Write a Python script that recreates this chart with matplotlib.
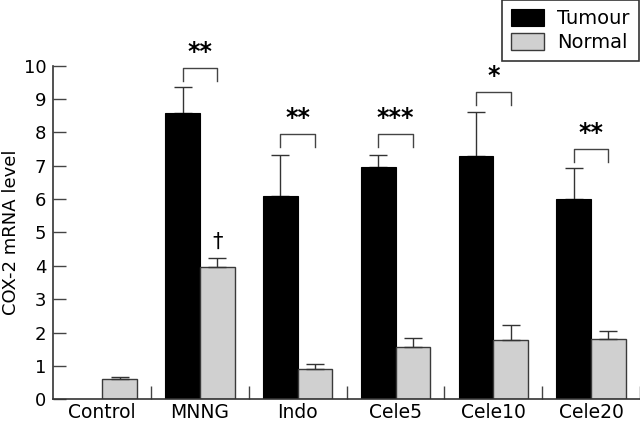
import matplotlib
matplotlib.use("Agg")
import matplotlib.pyplot as plt
import numpy as np

categories = ["Control", "MNNG", "Indo", "Cele5", "Cele10", "Cele20"]
tumour = [0.0, 8.57, 6.10, 6.97, 7.30, 6.01]
tumour_err = [0.0, 0.80, 1.21, 0.35, 1.32, 0.93]
normal = [0.61, 3.96, 0.91, 1.56, 1.78, 1.80]
normal_err = [0.07, 0.28, 0.14, 0.29, 0.46, 0.25]
sig_labels = ["", "**", "**", "***", "*", "**"]
bracket_y = [0, 9.94, 7.94, 7.94, 9.20, 7.49]
yticks = list(range(0, 11))

plt.rcParams['font.family'] = ['DejaVu Sans']

fig = plt.figure(figsize=(6.4, 4.24), dpi=100)
ax = fig.add_axes([53.3 / 640, 1 - 399.3 / 424, 1 - 53.3 / 640, (399.3 - 65.7) / 424])

x = np.arange(len(categories))
w = 0.355
gray = "#d0d0d0"
edge = "#3a3a3a"

tumour_plot = [t if t > 0 else np.nan for t in tumour]
ax.bar(x - w / 2, tumour_plot, w, color="black", edgecolor="black", linewidth=0.8, label="Tumour", zorder=2)
ax.bar(x + w / 2, normal, w, color=gray, edgecolor=edge, linewidth=1.0, label="Normal", zorder=2)

tx = [xi - w / 2 for xi, t in zip(x, tumour) if t > 0]
ty = [t for t in tumour if t > 0]
te = [e for t, e in zip(tumour, tumour_err) if t > 0]
ax.errorbar(tx, ty, yerr=[np.zeros(len(te)), te], fmt="none", ecolor="#333333",
            elinewidth=1.0, capsize=6.5, capthick=1.0, zorder=1)
ax.errorbar(x + w / 2, normal, yerr=[np.zeros(len(normal_err)), normal_err], fmt="none",
            ecolor="#333333", elinewidth=1.0, capsize=6.5, capthick=1.0, zorder=3)

# significance brackets
leg = 0.39
for xi, lab, by in zip(x, sig_labels, bracket_y):
    if not lab:
        continue
    ax.plot([xi - w / 2, xi - w / 2, xi + w / 2, xi + w / 2], [by - leg, by, by, by - leg],
            color="#444444", lw=1.0, clip_on=False)
    ax.text(xi, by + 0.48, lab, ha="center", va="center", fontsize=17, fontweight="bold",
            clip_on=False)

# dagger above MNNG normal
ax.text(1 + w / 2, 4.72, "\u2020", ha="center", va="center", fontsize=15)

ax.set_xlim(-0.5, len(categories) - 0.5)
ax.set_ylim(0, 10)
ax.set_yticks(yticks)
ax.set_yticklabels([str(t) for t in yticks], fontsize=13)
ax.set_xticks(x)
ax.set_xticklabels(categories, fontsize=13.5)
ax.tick_params(axis="x", which="major", length=0, pad=2.5)
ax.set_xticks(np.arange(0.5, len(categories), 1.0), minor=True)
ax.tick_params(axis="x", which="minor", direction="in", length=9.5, width=1.0, color="#444444")
for t in ax.xaxis.get_minor_ticks():
    t.tick1line.set_clip_on(False)
ax.tick_params(axis="y", direction="in", length=9.5, width=1.0, color="#444444", pad=5)

for s in ["top", "right"]:
    ax.spines[s].set_visible(False)
for s in ["left", "bottom"]:
    ax.spines[s].set_linewidth(1.2)
    ax.spines[s].set_color("#333333")

ax.set_ylabel("COX-2 mRNA level", fontsize=13, labelpad=3)

leg_ = fig.legend(loc="upper right", bbox_to_anchor=(638.5 / 640, 1.0), fontsize=14,
                  frameon=True, fancybox=False, edgecolor="#333333", framealpha=1,
                  handlelength=1.7, handleheight=1.0, handletextpad=0.7,
                  labelspacing=0.25, borderpad=0.45, borderaxespad=0)
leg_.get_frame().set_linewidth(1.2)

fig.savefig("out.png", dpi=100)
